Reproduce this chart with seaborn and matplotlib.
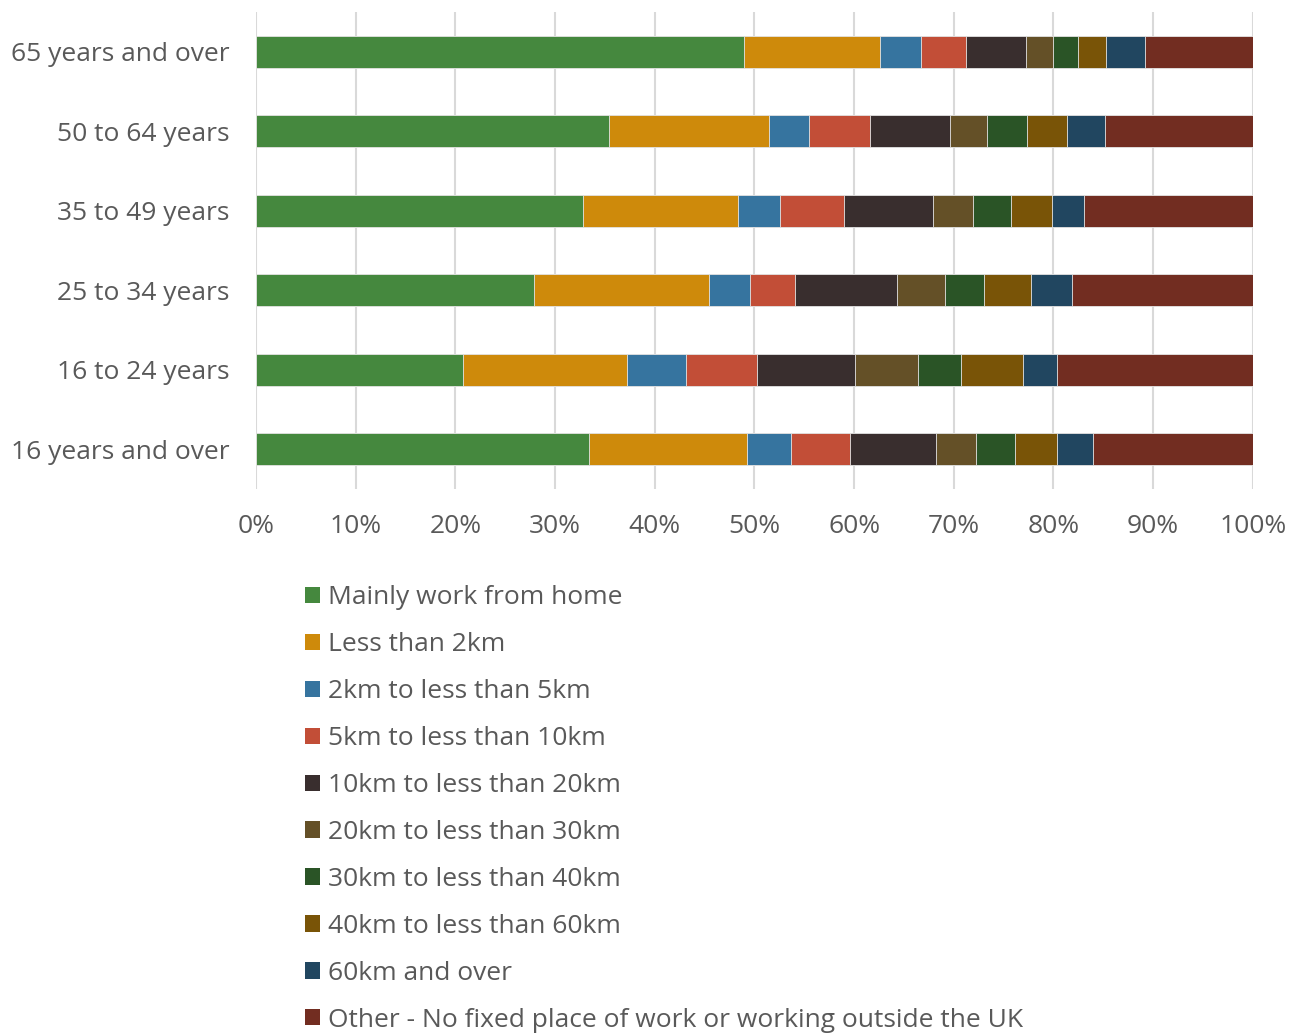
import numpy as np
import pandas as pd
import seaborn as sns
import matplotlib.pyplot as plt
from matplotlib.patches import Patch

# age groups, top to bottom
groups = ["65 years and over", "50 to 64 years", "35 to 49 years",
          "25 to 34 years", "16 to 24 years", "16 years and over"]

series = ["Mainly work from home", "Less than 2km", "2km to less than 5km",
          "5km to less than 10km", "10km to less than 20km", "20km to less than 30km",
          "30km to less than 40km", "40km to less than 60km", "60km and over",
          "Other - No fixed place of work or working outside the UK"]

home = [49.0, 35.4, 32.8, 27.9, 20.8, 33.4]
lt2 = [13.6, 16.1, 15.5, 17.5, 16.4, 15.9]
km2_5 = [4.1, 4.0, 4.3, 4.2, 5.9, 4.4]
km5_10 = [4.5, 6.1, 6.4, 4.5, 7.2, 5.9]
km10_20 = [6.0, 8.0, 8.9, 10.2, 9.8, 8.6]
km20_30 = [2.8, 3.7, 4.0, 4.8, 6.3, 4.0]
km30_40 = [2.5, 4.0, 3.8, 3.9, 4.3, 3.9]
km40_60 = [2.8, 4.1, 4.1, 4.7, 6.2, 4.3]
km60 = [3.9, 3.8, 3.3, 4.2, 3.5, 3.6]
other = [10.8, 14.8, 16.9, 18.1, 19.6, 16.0]

colors = ["#45883E", "#CE8A0B", "#36749F", "#C24E37", "#392E2E",
          "#645027", "#2A5426", "#795407", "#214660", "#722D21"]

text_col = "#595959"

df = pd.DataFrame(
    np.array([home, lt2, km2_5, km5_10, km10_20, km20_30, km30_40, km40_60, km60, other]).T,
    columns=series)
df = df.div(df.sum(axis=1), axis=0) * 100
df["group"] = groups
cum = df[series].cumsum(axis=1)

sns.set_theme(style="whitegrid")
plt.rcParams["font.family"] = ["Open Sans", "DejaVu Sans"]

fig = plt.figure(figsize=(13.01, 10.33), dpi=100)
ax = fig.add_axes([0.1968, 0.5266, 0.7662, 0.4618])

# stacked bars: draw cumulative totals from the right-most series backwards
for i in range(len(series) - 1, -1, -1):
    sns.barplot(x=cum[series[i]], y=df["group"], color=colors[i], orient="h",
                width=0.4, saturation=1, edgecolor="#e6e6e6", linewidth=0.6, ax=ax)

ax.set_xlim(0, 100)
ax.set_xticks(range(0, 101, 10))
ax.set_xticklabels([f"{t}%" for t in range(0, 101, 10)])
ax.set_xlabel("")
ax.set_ylabel("")
ax.grid(axis="x", color="#D9D9D9", linewidth=1.5)
ax.grid(axis="y", visible=False)
ax.set_axisbelow(True)
for s in ax.spines.values():
    s.set_visible(False)
ax.tick_params(axis="x", labelsize=19, labelcolor=text_col, pad=18, length=0)
ax.tick_params(axis="y", labelsize=19, labelcolor=text_col, pad=19, length=0)

handles = [Patch(facecolor=c, edgecolor="none") for c in colors]
fig.legend(handles, series, loc="upper left", bbox_to_anchor=(0.2243, 0.446),
           frameon=False, fontsize=19, labelcolor=text_col, handlelength=0.58,
           handleheight=0.58, handletextpad=0.3, labelspacing=0.83, borderpad=0)

fig.savefig("out.png", dpi=100)
